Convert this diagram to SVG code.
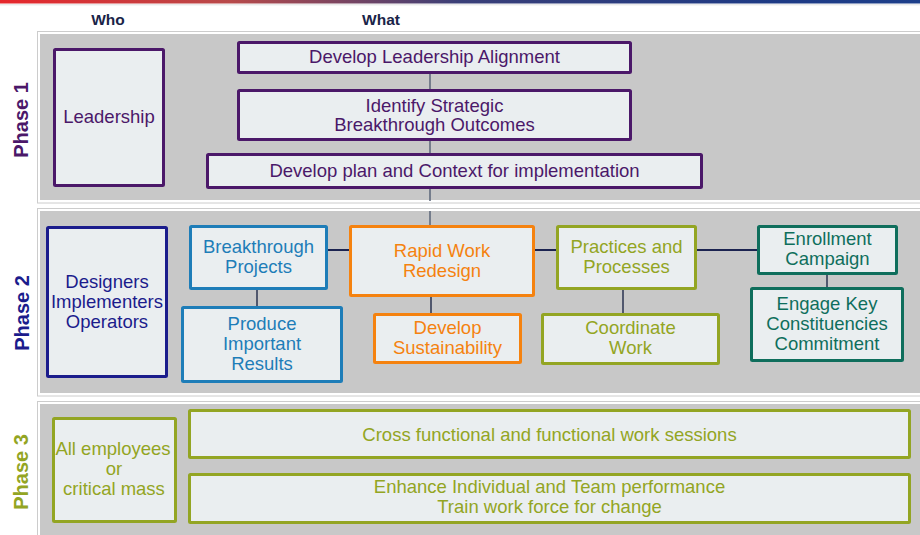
<svg xmlns="http://www.w3.org/2000/svg" width="920" height="535" viewBox="0 0 920 535">
<defs>
<linearGradient id="topbar" x1="0" y1="0" x2="1" y2="0">
<stop offset="0" stop-color="#e6262b"/>
<stop offset="0.25" stop-color="#b84a4a"/>
<stop offset="0.5" stop-color="#3a3f78"/>
<stop offset="0.85" stop-color="#1d3a85"/>
<stop offset="1" stop-color="#1d3f8a"/>
</linearGradient>
</defs>
<style>
.panelo{fill:#ffffff;stroke:#cccccc;stroke-width:1}
.paneli{fill:#c8c8c8}
.box{fill:#eaeef0;stroke-width:3}
.t{font-family:"Liberation Sans",Arial,sans-serif;font-size:18.5px;text-anchor:middle}
.hdr{font-family:"Liberation Sans",Arial,sans-serif;font-size:15.5px;font-weight:bold;fill:#1a2448;text-anchor:middle}
.ph{font-family:"Liberation Sans",Arial,sans-serif;font-size:20px;font-weight:bold;text-anchor:middle}
.purple{stroke:#4b1869}.tpurple{fill:#4b1869}
.navy{stroke:#1b1c8c}.tnavy{fill:#1b1c8c}
.blue{stroke:#1e7db8}.tblue{fill:#1e7db8}
.orange{stroke:#f5820f}.torange{fill:#f5820f}
.olive{stroke:#93a523}.tolive{fill:#93a523}
.teal{stroke:#0f6e5c}.tteal{fill:#0f6e5c}
.c1{stroke:#5a6478;stroke-width:1.5;fill:none}
.c2{stroke:#1b2350;stroke-width:2;fill:none}
.c3{stroke:#2a3350;stroke-width:1.5;fill:none}
</style>
<rect x="0" y="0" width="920" height="535" fill="#ffffff"/>
<rect x="0" y="0" width="920" height="3.5" fill="url(#topbar)"/>
<line x1="0" y1="4.8" x2="920" y2="4.8" stroke="#e2e2e2" stroke-width="1"/>
<text class="hdr" x="108" y="25">Who</text>
<text class="hdr" x="381" y="25">What</text>

<g id="panels">
<rect class="panelo" x="37.5" y="31.5" width="900" height="171.5"/>
<rect class="paneli" x="40" y="34" width="900" height="166"/>
<rect class="panelo" x="37.5" y="208.5" width="900" height="187.5"/>
<rect class="paneli" x="40" y="211" width="900" height="182"/>
<rect class="panelo" x="37.5" y="401.5" width="900" height="150"/>
<rect class="paneli" x="40" y="404" width="900" height="150"/>
</g>

<g id="phase-labels">
<text class="ph tpurple" transform="translate(28,120) rotate(-90)">Phase 1</text>
<text class="ph tnavy" transform="translate(29,313) rotate(-90)">Phase 2</text>
<text class="ph tolive" transform="translate(28,472) rotate(-90)">Phase 3</text>
</g>

<g id="connectors">
<line class="c1" x1="430" y1="74" x2="430" y2="89"/>
<line class="c1" x1="430" y1="141" x2="430" y2="153"/>
<line class="c1" x1="430" y1="189" x2="430" y2="201"/>
<line class="c1" x1="430" y1="211" x2="430" y2="226"/>
<line class="c2" x1="328" y1="250" x2="349" y2="250"/>
<line class="c2" x1="535" y1="250" x2="556" y2="250"/>
<line class="c2" x1="697" y1="250" x2="757" y2="250"/>
<line class="c3" x1="257" y1="290" x2="257" y2="306"/>
<line class="c3" x1="431" y1="297" x2="431" y2="313"/>
<line class="c3" x1="623" y1="290" x2="623" y2="313"/>
<line class="c3" x1="827" y1="275" x2="827" y2="287"/>
</g>

<g id="leadership">
<rect class="box purple" x="54.5" y="49.5" width="109" height="136" rx="1"/>
<text class="t tpurple" x="109" y="123">Leadership</text>
</g>
<g id="develop-leadership-alignment">
<rect class="box purple" x="238.5" y="42.5" width="392" height="30" rx="1"/>
<text class="t tpurple" x="434.5" y="63">Develop Leadership Alignment</text>
</g>
<g id="identify-strategic">
<rect class="box purple" x="238.5" y="90.5" width="392" height="49" rx="1"/>
<text class="t tpurple" x="434.5" y="111.5">Identify Strategic</text>
<text class="t tpurple" x="434.5" y="131">Breakthrough Outcomes</text>
</g>
<g id="develop-plan">
<rect class="box purple" x="207.5" y="154.5" width="494" height="33" rx="1"/>
<text class="t tpurple" x="454.5" y="177">Develop plan and Context for implementation</text>
</g>

<g id="designers">
<rect class="box navy" x="47.5" y="227.5" width="119" height="149" rx="1"/>
<text class="t tnavy" x="107" y="288">Designers</text>
<text class="t tnavy" x="107" y="308">Implementers</text>
<text class="t tnavy" x="107" y="328">Operators</text>
</g>
<g id="breakthrough-projects">
<rect class="box blue" x="190.5" y="226.5" width="136" height="62" rx="1"/>
<text class="t tblue" x="258.5" y="253">Breakthrough</text>
<text class="t tblue" x="258.5" y="273">Projects</text>
</g>
<g id="produce-results">
<rect class="box blue" x="182.5" y="307.5" width="159" height="74" rx="1"/>
<text class="t tblue" x="262" y="330">Produce</text>
<text class="t tblue" x="262" y="350">Important</text>
<text class="t tblue" x="262" y="369.5">Results</text>
</g>
<g id="rapid-work-redesign">
<rect class="box orange" x="350.5" y="226.5" width="183" height="69" rx="1"/>
<text class="t torange" x="442" y="257">Rapid Work</text>
<text class="t torange" x="442" y="277">Redesign</text>
</g>
<g id="develop-sustainability">
<rect class="box orange" x="374.5" y="314.5" width="146" height="48" rx="1"/>
<text class="t torange" x="447.5" y="333.5">Develop</text>
<text class="t torange" x="447.5" y="353.5">Sustainability</text>
</g>
<g id="practices-processes">
<rect class="box olive" x="557.5" y="226.5" width="138" height="62" rx="1"/>
<text class="t tolive" x="626.5" y="253">Practices and</text>
<text class="t tolive" x="626.5" y="273">Processes</text>
</g>
<g id="coordinate-work">
<rect class="box olive" x="542.5" y="314.5" width="176" height="49" rx="1"/>
<text class="t tolive" x="630.5" y="333.5">Coordinate</text>
<text class="t tolive" x="630.5" y="353.5">Work</text>
</g>
<g id="enrollment-campaign">
<rect class="box teal" x="758.5" y="226.5" width="138" height="47" rx="1"/>
<text class="t tteal" x="827.5" y="245">Enrollment</text>
<text class="t tteal" x="827.5" y="265">Campaign</text>
</g>
<g id="engage-key">
<rect class="box teal" x="751.5" y="288.5" width="151" height="72" rx="1"/>
<text class="t tteal" x="827" y="310">Engage Key</text>
<text class="t tteal" x="827" y="330">Constituencies</text>
<text class="t tteal" x="827" y="349.5">Commitment</text>
</g>

<g id="all-employees">
<rect class="box olive" x="53.5" y="418.5" width="122" height="103" rx="1"/>
<text class="t tolive" x="113" y="455">All employees</text>
<text class="t tolive" x="114" y="475">or</text>
<text class="t tolive" x="114" y="495">critical mass</text>
</g>
<g id="cross-functional">
<rect class="box olive" x="189.5" y="410.5" width="720" height="47" rx="1"/>
<text class="t tolive" x="549.5" y="440.5">Cross functional and functional work sessions</text>
</g>
<g id="enhance">
<rect class="box olive" x="189.5" y="474.5" width="720" height="48" rx="1"/>
<text class="t tolive" x="549.5" y="493">Enhance Individual and Team performance</text>
<text class="t tolive" x="549.5" y="512.5">Train work force for change</text>
</g>
</svg>
